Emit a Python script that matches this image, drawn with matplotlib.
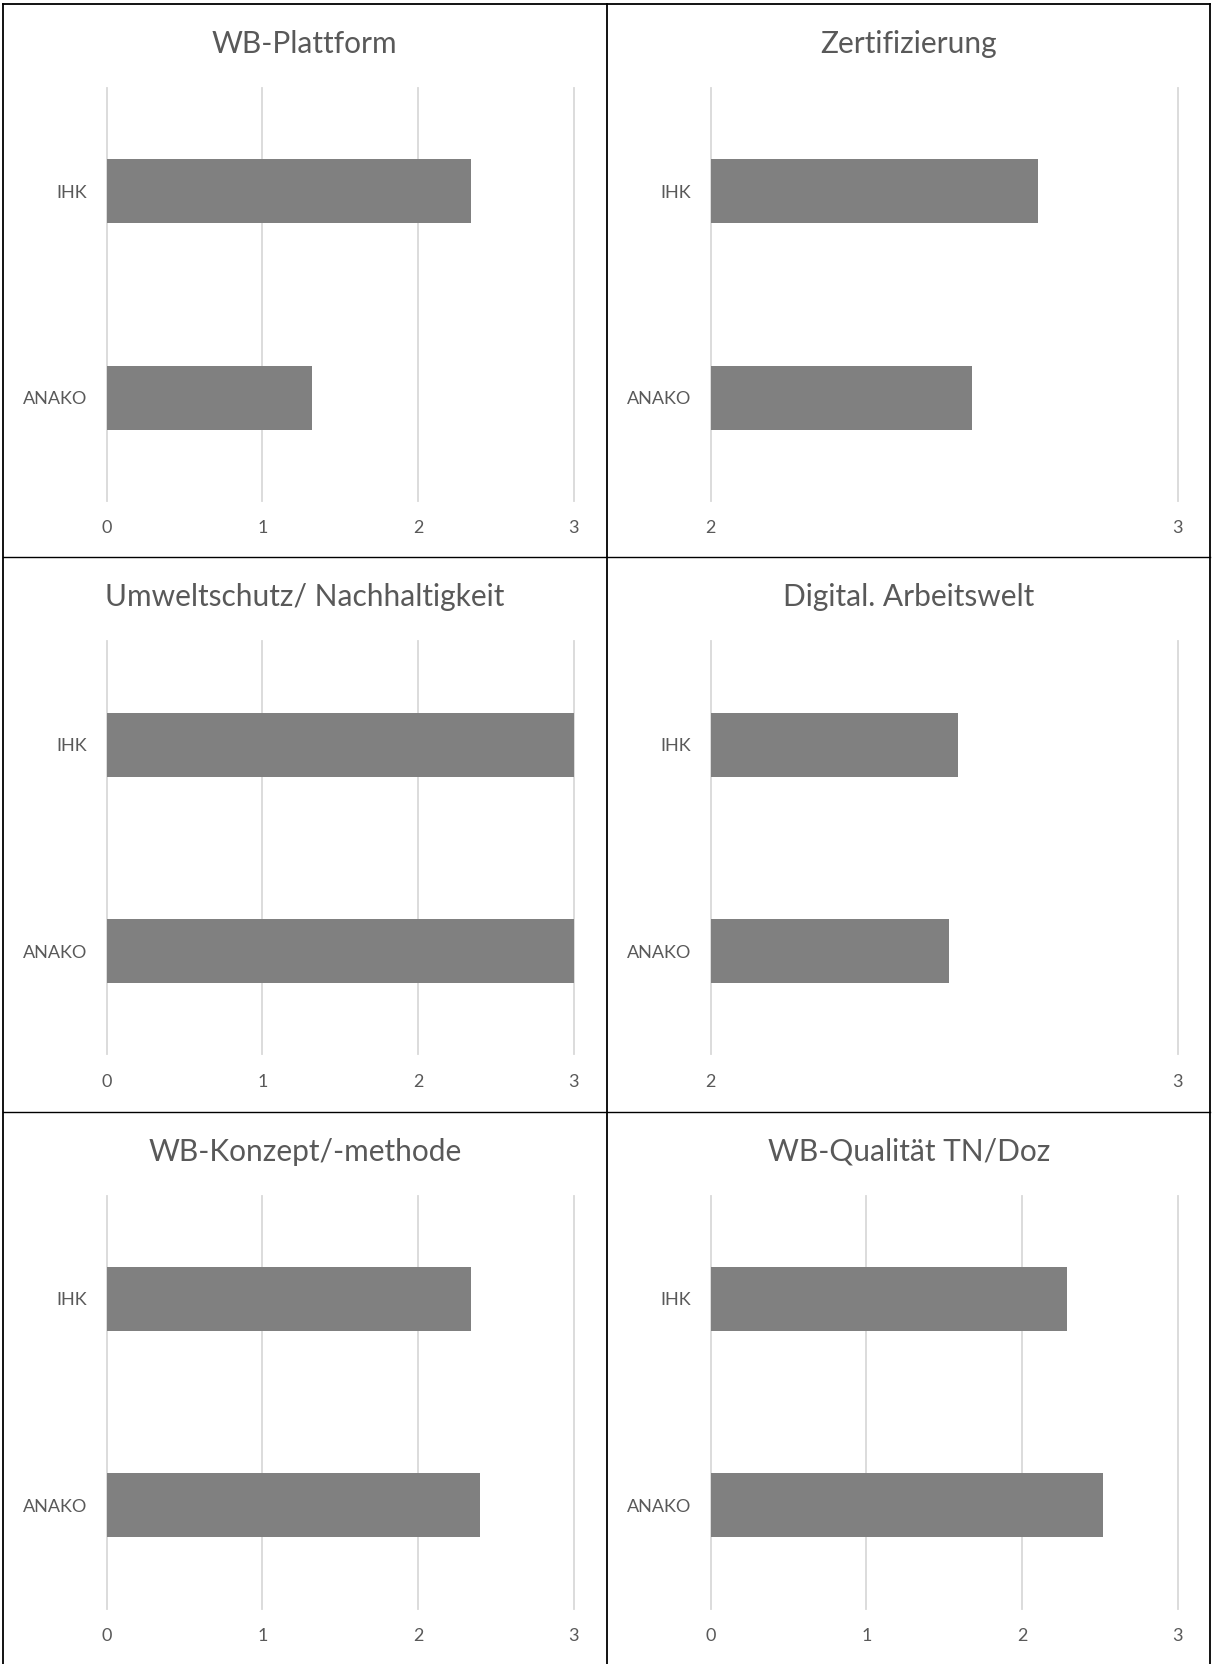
import matplotlib.pyplot as plt
from matplotlib.lines import Line2D

titles = ["WB-Plattform", "Zertifizierung", "Umweltschutz/ Nachhaltigkeit",
          "Digital. Arbeitswelt", "WB-Konzept/-methode", "WB-Qualität TN/Doz"]
categories = ["ANAKO", "IHK"]
anako = [1.32, 2.56, 3.0, 2.51, 2.40, 2.52]
ihk = [2.34, 2.70, 3.0, 2.53, 2.34, 2.29]
x_min = [0, 2, 0, 2, 0, 0]
x_max = [3, 3, 3, 3, 3, 3]

plt.rcParams['font.family'] = ['Lato', 'DejaVu Sans']

W, H = 1212, 1664
fig = plt.figure(figsize=(W / 100, H / 100), dpi=100)
fig.patch.set_facecolor('white')

# cell grid in pixels
col_x = [2.7, 606.7]
row_y = [4.0, 557.3, 1111.5]

for i, title in enumerate(titles):
    r, c = divmod(i, 2)
    cx, cy = col_x[c], row_y[r]
    left = cx + 104
    right = cx + 571
    top = cy + 84
    bottom = cy + 497
    ax = fig.add_axes([left / W, 1 - bottom / H, (right - left) / W, (bottom - top) / H])

    vals = [anako[i], ihk[i]]
    ax.barh(range(len(categories)), vals, height=0.31, color='#808080', zorder=2)
    ax.set_xlim(x_min[i], x_max[i])
    ax.set_ylim(-0.5, 1.5)
    ax.set_xticks(range(x_min[i], x_max[i] + 1))
    ax.set_yticks(range(len(categories)))
    ax.set_yticklabels(categories)
    ax.grid(axis='x', color='#d9d9d9', lw=1.3, zorder=0)
    for gl in ax.get_xgridlines():
        gl.set_clip_on(False)
    ax.set_axisbelow(True)
    for s in ax.spines.values():
        s.set_visible(False)
    ax.tick_params(axis='both', length=0, labelsize=13, labelcolor='#595959')
    ax.tick_params(axis='y', pad=14)
    ax.tick_params(axis='x', pad=14)

    # title
    fig.text((cx + 302) / W, 1 - (cy + 40) / H, title, ha='center', va='center',
             fontsize=21.5, color='#595959')

# table borders
lw = 1.3
def hline(y, x0=col_x[0], x1=1209.7, w=lw):
    fig.add_artist(Line2D([x0 / W, x1 / W], [1 - y / H, 1 - y / H], color='black', lw=w))

def vline(x, y0=row_y[0], y1=H, w=lw):
    fig.add_artist(Line2D([x / W, x / W], [1 - y0 / H, 1 - y1 / H], color='black', lw=w))

hline(row_y[0])
hline(row_y[1], w=1.0)
hline(row_y[2], w=1.0)
vline(col_x[0])
vline(col_x[1])
vline(1209.7)

fig.savefig('out.png', dpi=100, facecolor='white')
